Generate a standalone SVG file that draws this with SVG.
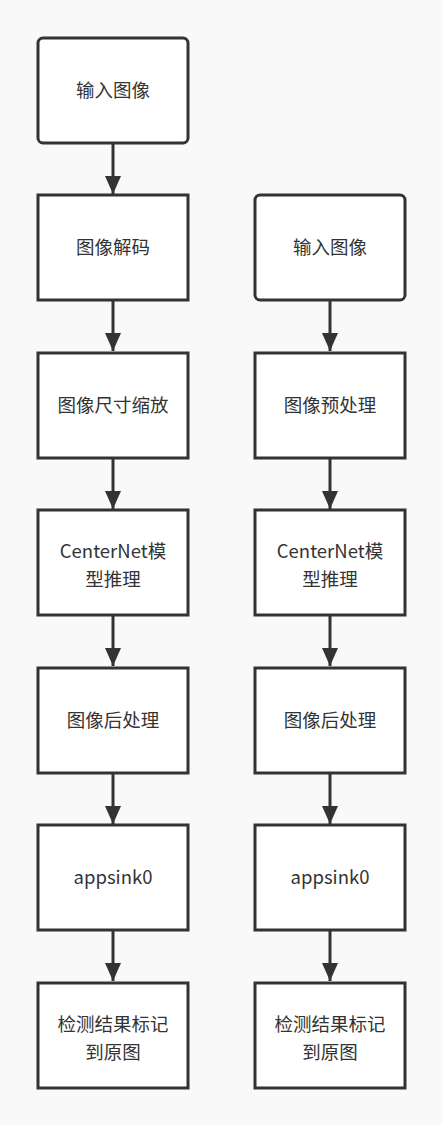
<svg xmlns="http://www.w3.org/2000/svg" width="442" height="1125" viewBox="0 0 442 1125">
<style>
.box{fill:#fff;stroke:#333;stroke-width:3}
.t{font-family:"Noto Sans CJK SC","Microsoft YaHei",sans-serif;font-size:18.5px;fill:#333;text-anchor:middle}
.c{stroke:#333;stroke-width:3;fill:none}
</style>
<defs>
<marker id="ah" markerUnits="userSpaceOnUse" markerWidth="18" markerHeight="22" refX="18" refY="8" orient="auto" viewBox="0 0 18 16">
<path d="M0,0 L18,8 L0,16 Z" fill="#333"/>
</marker>
</defs>
<rect width="442" height="1125" fill="#f9f9f9"/>
<g id="connectors">
<path class="c" d="M113,143 V194" marker-end="url(#ah)"/>
<path class="c" d="M113,300 V351" marker-end="url(#ah)"/>
<path class="c" d="M113,458 V509" marker-end="url(#ah)"/>
<path class="c" d="M113,615 V666" marker-end="url(#ah)"/>
<path class="c" d="M113,773 V824" marker-end="url(#ah)"/>
<path class="c" d="M113,930 V981" marker-end="url(#ah)"/>
<path class="c" d="M330,300 V351" marker-end="url(#ah)"/>
<path class="c" d="M330,458 V509" marker-end="url(#ah)"/>
<path class="c" d="M330,615 V666" marker-end="url(#ah)"/>
<path class="c" d="M330,773 V824" marker-end="url(#ah)"/>
<path class="c" d="M330,930 V981" marker-end="url(#ah)"/>
</g>
<g id="L1"><rect class="box" x="38" y="38" width="150" height="105" rx="5"/><text class="t" x="113" y="97">输入图像</text></g>
<g id="L2"><rect class="box" x="38" y="195" width="150" height="105"/><text class="t" x="113" y="254">图像解码</text></g>
<g id="L3"><rect class="box" x="38" y="353" width="150" height="105"/><text class="t" x="113" y="412">图像尺寸缩放</text></g>
<g id="L4"><rect class="box" x="38" y="510" width="150" height="105"/><text class="t" x="113" y="558">CenterNet模</text><text class="t" x="113" y="585.5">型推理</text></g>
<g id="L5"><rect class="box" x="38" y="668" width="150" height="105"/><text class="t" x="113" y="727">图像后处理</text></g>
<g id="L6"><rect class="box" x="38" y="825" width="150" height="105"/><text class="t" x="113" y="884">appsink0</text></g>
<g id="L7"><rect class="box" x="38" y="983" width="150" height="105"/><text class="t" x="113" y="1031">检测结果标记</text><text class="t" x="113" y="1058.5">到原图</text></g>
<g id="R1"><rect class="box" x="255" y="195" width="150" height="105" rx="5"/><text class="t" x="330" y="254">输入图像</text></g>
<g id="R2"><rect class="box" x="255" y="353" width="150" height="105"/><text class="t" x="330" y="412">图像预处理</text></g>
<g id="R3"><rect class="box" x="255" y="510" width="150" height="105"/><text class="t" x="330" y="558">CenterNet模</text><text class="t" x="330" y="585.5">型推理</text></g>
<g id="R4"><rect class="box" x="255" y="668" width="150" height="105"/><text class="t" x="330" y="727">图像后处理</text></g>
<g id="R5"><rect class="box" x="255" y="825" width="150" height="105"/><text class="t" x="330" y="884">appsink0</text></g>
<g id="R6"><rect class="box" x="255" y="983" width="150" height="105"/><text class="t" x="330" y="1031">检测结果标记</text><text class="t" x="330" y="1058.5">到原图</text></g>
</svg>
